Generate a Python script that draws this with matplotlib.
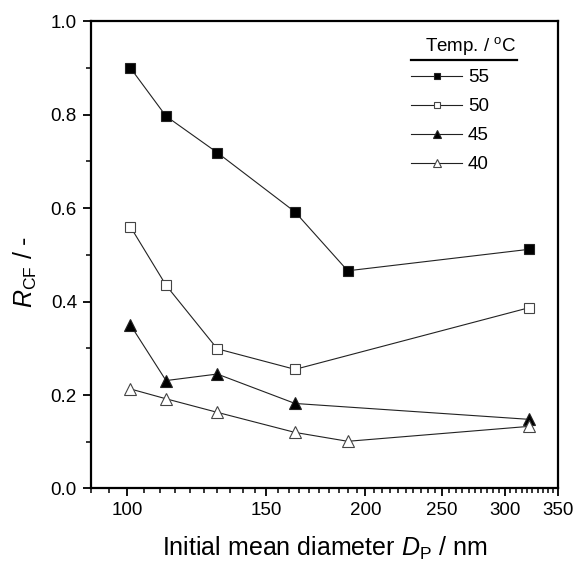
import numpy as np
import matplotlib
matplotlib.use("Agg")
import matplotlib.pyplot as plt
from matplotlib.ticker import FixedLocator, NullFormatter, MultipleLocator, FormatStrFormatter
from matplotlib.lines import Line2D

plt.rcParams['font.family'] = ['Liberation Sans', 'DejaVu Sans']
plt.rcParams['mathtext.fontset'] = 'custom'
plt.rcParams['mathtext.rm'] = 'Liberation Sans'
plt.rcParams['mathtext.it'] = 'Liberation Sans:italic'

# data
dp_all = [101, 112, 130, 163, 190, 322]
dp_5 = [101, 112, 130, 163, 322]
r55 = [0.900, 0.797, 0.719, 0.592, 0.466, 0.512]
r50 = [0.560, 0.435, 0.299, 0.255, 0.387]
r45 = [0.350, 0.231, 0.245, 0.182, 0.148]
r40 = [0.213, 0.192, 0.163, 0.120, 0.101, 0.133]

series = [
    (dp_all, r55, 's', 'black', '55', 6.8),
    (dp_5, r50, 's', 'white', '50', 6.8),
    (dp_5, r45, '^', 'black', '45', 8),
    (dp_all, r40, '^', 'white', '40', 8),
]

xticks = [100, 150, 200, 250, 300, 350]

fig = plt.figure(figsize=(5.75, 5.69), dpi=100)
ax = fig.add_axes([0.158, 0.1415, 0.812, 0.821])

for x, y, m, fc, lab, ms in series:
    ax.plot(x, y, color='#222222', lw=0.8, marker=m, ms=ms,
            mfc=fc, mec='#222222' if fc == 'black' else '#444444',
            mew=0.8, label=lab)

ax.set_xscale('log')
ax.set_xlim(90, 350)
ax.set_ylim(0, 1.0)
ax.xaxis.set_major_locator(FixedLocator(xticks))
ax.xaxis.set_minor_locator(FixedLocator(np.arange(90, 351, 5)))
ax.xaxis.set_minor_formatter(NullFormatter())
ax.set_xticklabels([str(t) for t in xticks])
ax.yaxis.set_major_locator(MultipleLocator(0.2))
ax.yaxis.set_minor_locator(MultipleLocator(0.1))
ax.yaxis.set_major_formatter(FormatStrFormatter('%.1f'))

for s in ax.spines.values():
    s.set_linewidth(1.6)
ax.tick_params(which='major', direction='out', length=6, width=1.3, labelsize=13.5, pad=4)
ax.tick_params(which='minor', direction='out', length=3.5, width=1.1)

ax.set_xlabel(r'Initial mean diameter $D_{\rm P}$ / nm', fontsize=18)
ax.xaxis.set_label_coords(0.5, -0.100)
ax.set_ylabel(r'$R_{\rm CF}$ / -', fontsize=18)
ax.yaxis.set_label_coords(-0.111, 0.4636)

# legend with separate title and underline
ax.text(0.8137, 0.9375, r'Temp. / $^{\rm o}$C', transform=ax.transAxes,
        ha='center', va='baseline', fontsize=13.5)
ax.add_line(Line2D([0.6867, 0.9128], [0.9176, 0.9176], transform=ax.transAxes,
                   color='black', lw=1.6, clip_on=False))
ax.legend(loc='center left', bbox_to_anchor=(0.6867, 0.786), frameon=False,
          fontsize=13.5, markerscale=0.72, handlelength=2.67,
          labelspacing=0.63, handletextpad=0.34, borderpad=0, borderaxespad=0)

fig.savefig('out.png', dpi=100)
